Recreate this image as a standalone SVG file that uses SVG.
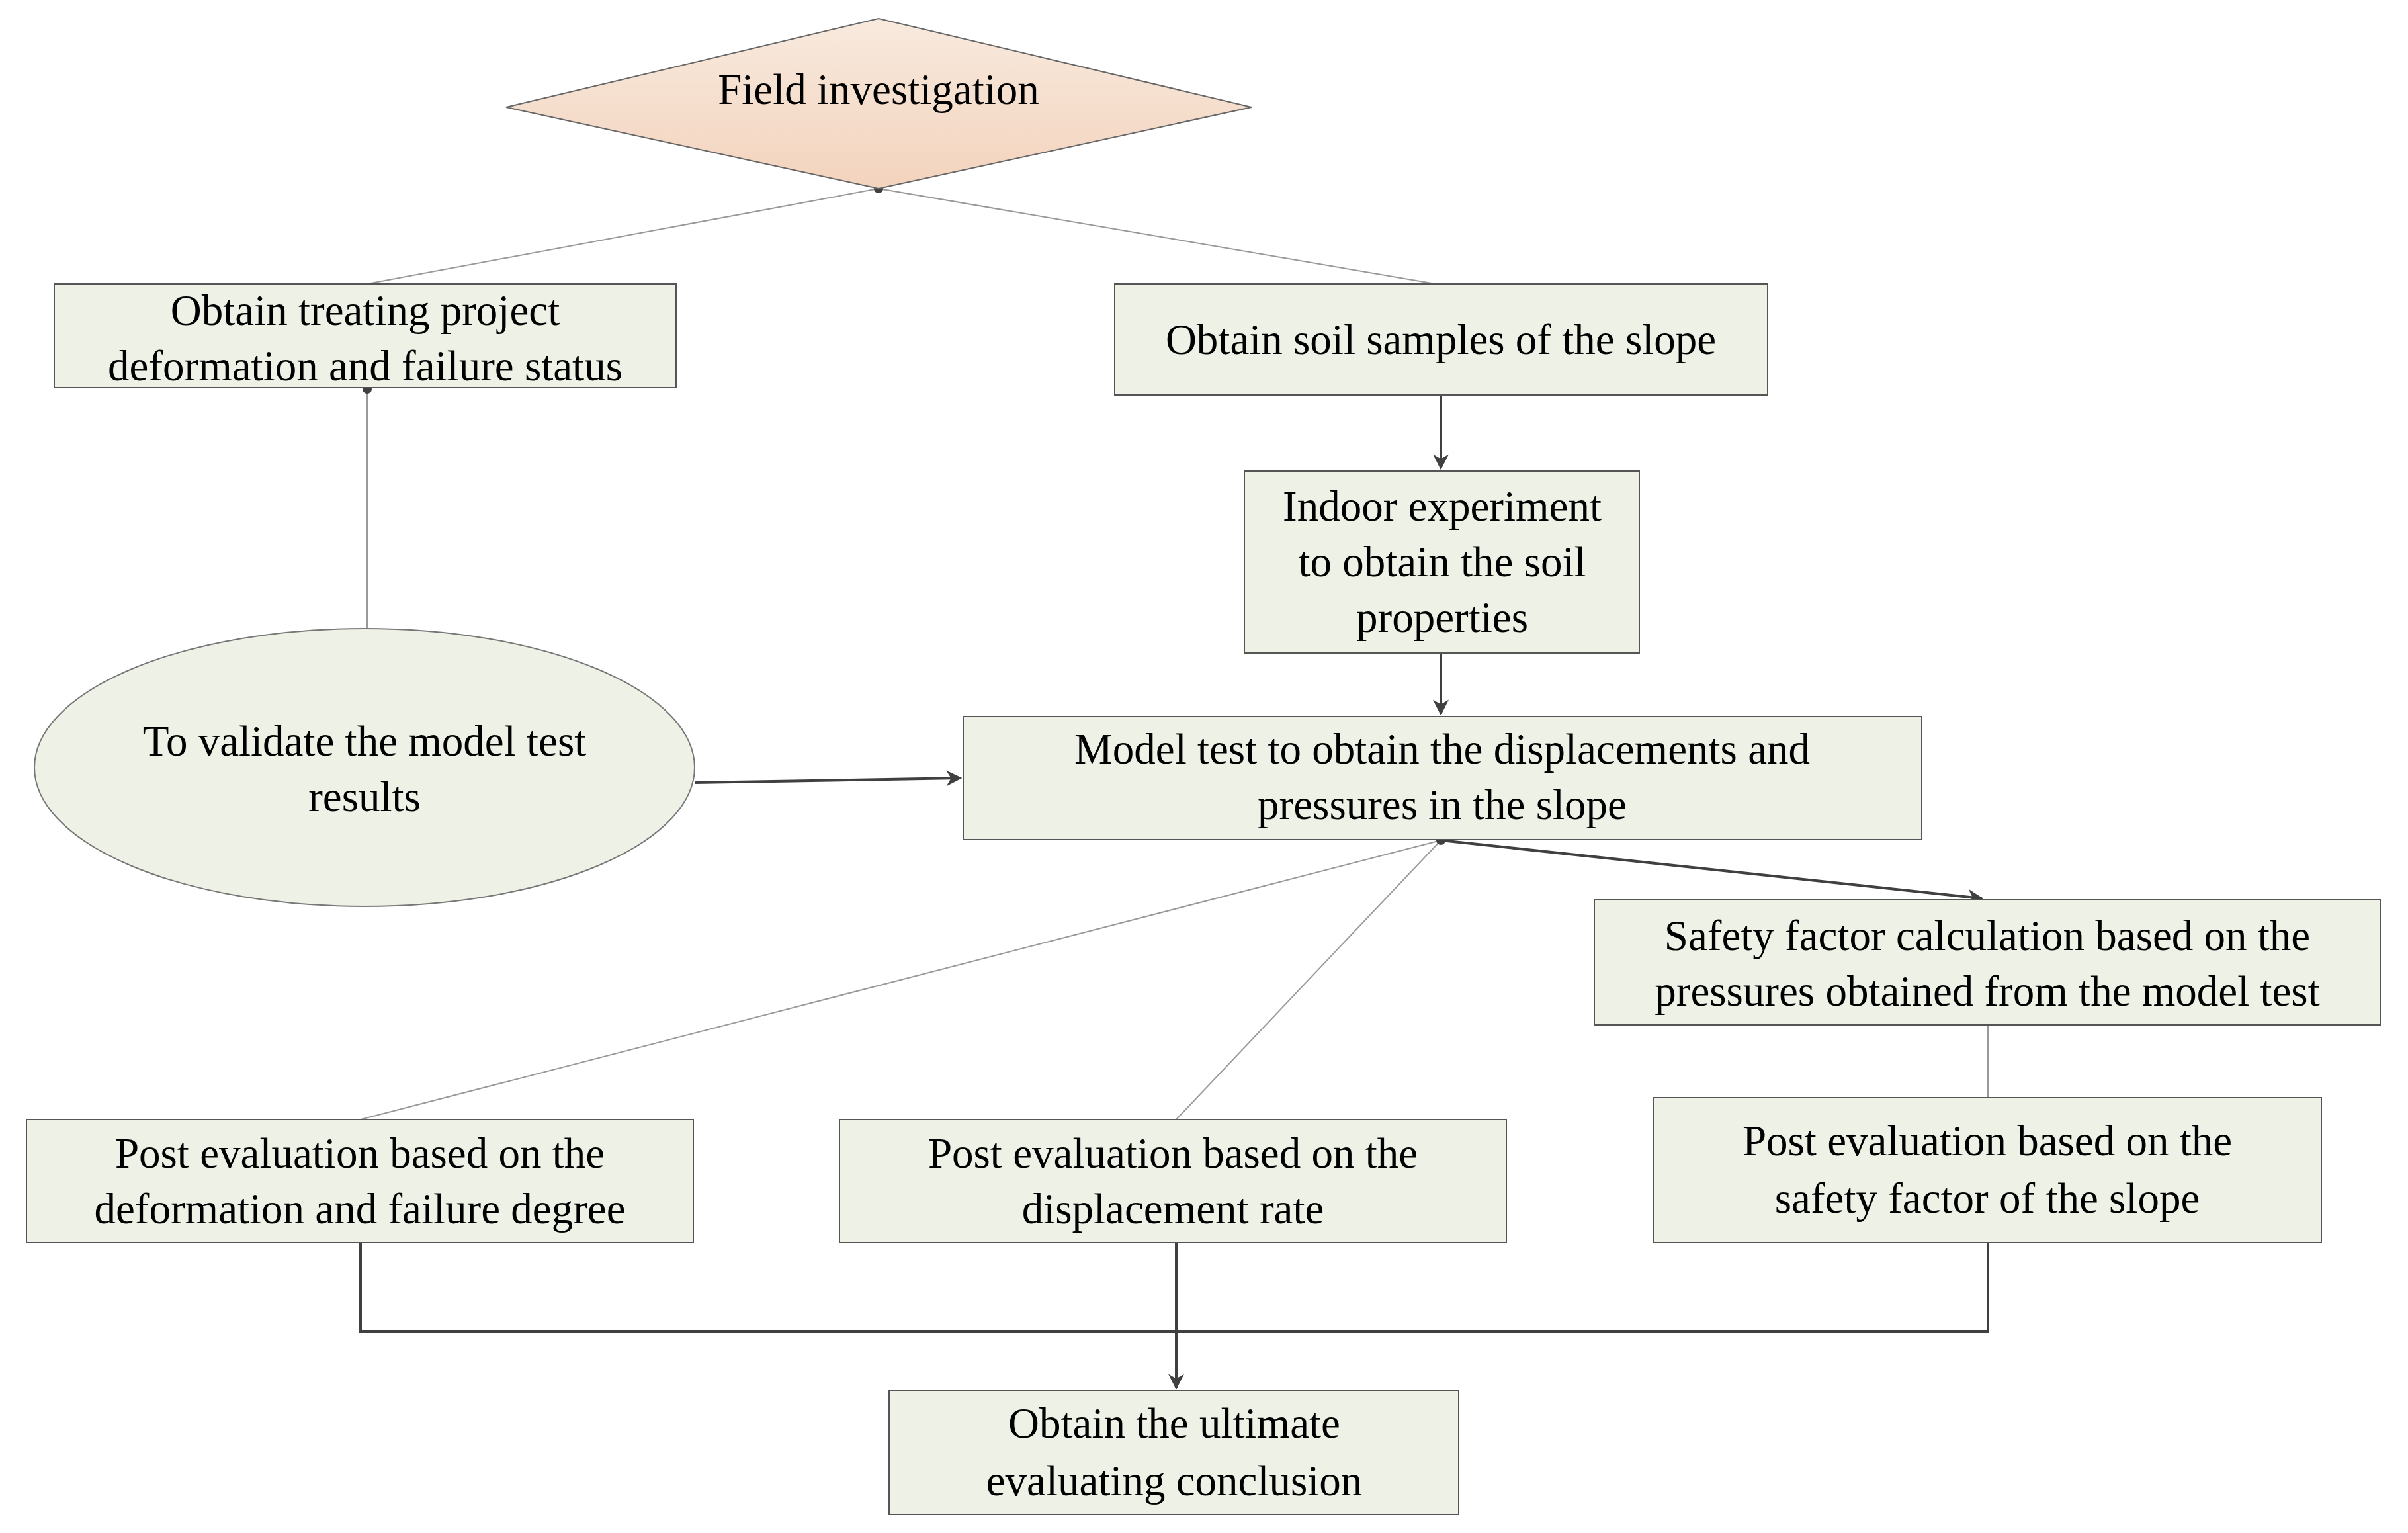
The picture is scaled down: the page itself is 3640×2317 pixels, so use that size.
<svg xmlns="http://www.w3.org/2000/svg" width="3640" height="2317" viewBox="0 0 3640 2317">
<style>
.n{fill:#eef1e6;stroke:#555;stroke-width:2}
.t{font-family:"Liberation Serif",serif;font-size:65px;text-anchor:middle;fill:#000}
.thin{stroke:#999;stroke-width:2;fill:none}
.ar{stroke:#404040;stroke-width:4;fill:none;marker-end:url(#a)}
.ln{stroke:#404040;stroke-width:4;fill:none}
</style>
<defs>
<linearGradient id="g" x1="0" y1="0" x2="0" y2="1"><stop offset="0" stop-color="#f8eade"/><stop offset="1" stop-color="#f3d3bd"/></linearGradient>
<marker id="a" viewBox="0 0 10 10" refX="9" refY="5" markerWidth="6" markerHeight="6" orient="auto" markerUnits="strokeWidth"><path d="M0,0 L10,5 L0,10 L3,5 z" fill="#404040"/></marker>
</defs>
<rect width="3640" height="2317" fill="#fff"/>
<g id="connectors">
<line class="thin" x1="1328" y1="285" x2="555" y2="429"/>
<line class="thin" x1="1328" y1="285" x2="2170" y2="429"/>
<line class="thin" x1="555" y1="588" x2="555" y2="950"/>
<line class="ar" x1="2178" y1="597" x2="2178" y2="708"/>
<line class="ar" x1="2178" y1="987" x2="2178" y2="1079"/>
<line class="ar" x1="1050" y1="1183" x2="1452" y2="1176"/>
<line class="ar" x1="2178" y1="1270" x2="2996" y2="1358"/>
<line class="thin" x1="2178" y1="1270" x2="545" y2="1692"/>
<line class="thin" x1="2178" y1="1270" x2="1778" y2="1692"/>
<line class="thin" x1="3005" y1="1549" x2="3005" y2="1659"/>
<polyline class="ln" points="545,1878 545,2012 3005,2012 3005,1878"/>
<line class="ar" x1="1778" y1="1878" x2="1778" y2="2098"/>
<circle cx="1328" cy="285" r="7" fill="#404040"/>
<circle cx="555" cy="588" r="7" fill="#404040"/>
<circle cx="2178" cy="1270" r="7" fill="#404040"/>
</g>
<g id="field">
<polygon points="765,162 1328,28 1892,162 1328,285" fill="url(#g)" stroke="#666" stroke-width="2"/>
<text class="t" x="1328" y="157">Field investigation</text>
</g>
<g id="box1"><rect class="n" x="82" y="429" width="940" height="157"/>
<text class="t" x="552" y="491">Obtain treating project</text><text class="t" x="552" y="575">deformation and failure status</text></g>
<g id="box2"><rect class="n" x="1685" y="429" width="987" height="168"/>
<text class="t" x="2178" y="535">Obtain soil samples of the slope</text></g>
<g id="box3"><rect class="n" x="1881" y="712" width="597" height="275"/>
<text class="t" x="2180" y="787">Indoor experiment</text><text class="t" x="2180" y="871">to obtain the soil</text><text class="t" x="2180" y="955">properties</text></g>
<g id="ellipse"><ellipse cx="551" cy="1160" rx="499" ry="210" fill="#eef1e6" stroke="#777" stroke-width="2"/>
<text class="t" x="551" y="1142">To validate the model test</text><text class="t" x="551" y="1226">results</text></g>
<g id="box4"><rect class="n" x="1456" y="1083" width="1449" height="186"/>
<text class="t" x="2180" y="1154">Model test to obtain the displacements and</text><text class="t" x="2180" y="1238">pressures in the slope</text></g>
<g id="safety"><rect class="n" x="2410" y="1360" width="1188" height="189"/>
<text class="t" x="3004" y="1436">Safety factor calculation based on the</text><text class="t" x="3004" y="1520">pressures obtained from the model test</text></g>
<g id="post1"><rect class="n" x="40" y="1692" width="1008" height="186"/>
<text class="t" x="544" y="1765">Post evaluation based on the</text><text class="t" x="544" y="1849">deformation and failure degree</text></g>
<g id="post2"><rect class="n" x="1269" y="1692" width="1008" height="186"/>
<text class="t" x="1773" y="1765">Post evaluation based on the</text><text class="t" x="1773" y="1849">displacement rate</text></g>
<g id="post3"><rect class="n" x="2499" y="1659" width="1010" height="219"/>
<text class="t" x="3004" y="1746">Post evaluation based on the</text><text class="t" x="3004" y="1833">safety factor of the slope</text></g>
<g id="final"><rect class="n" x="1344" y="2102" width="861" height="187"/>
<text class="t" x="1775" y="2173">Obtain the ultimate</text><text class="t" x="1775" y="2260">evaluating conclusion</text></g>
</svg>
